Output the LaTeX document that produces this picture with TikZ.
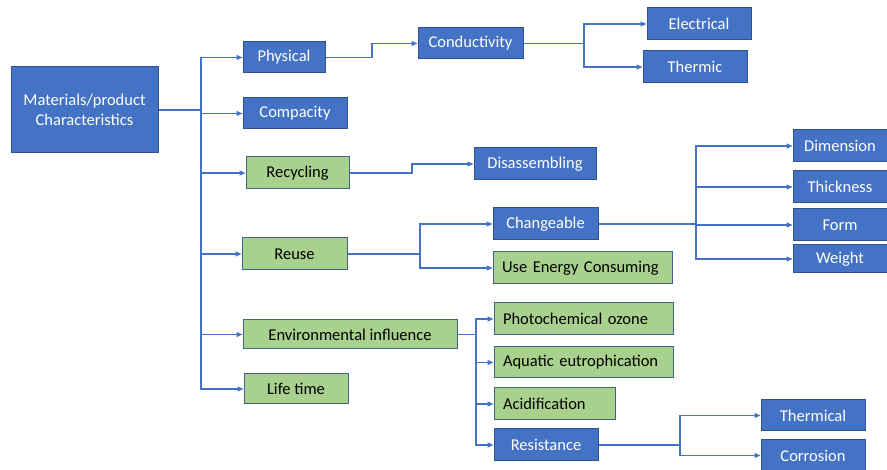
\documentclass[tikz,border=0pt]{standalone}
\usepackage{fontspec}
\setmainfont{Carlito}
\usetikzlibrary{arrows.meta}
\definecolor{bfill}{HTML}{4472C4}
\definecolor{bdraw}{HTML}{2F528F}
\definecolor{gfill}{HTML}{A9D18E}
\definecolor{gdraw}{HTML}{41618F}
\definecolor{lcol}{HTML}{4472C4}
\tikzset{
  box/.style={rectangle, inner sep=0pt, line width=1pt, font=\fontsize{16.5}{19.5}\selectfont, align=center},
  bluebox/.style={box, fill=bfill, draw=bdraw, text=white},
  greenbox/.style={box, fill=gfill, draw=gdraw, text=black},
  lefttext/.style={inner xsep=9pt, text width=#1, align=left},
  conn/.style={draw=lcol, line width=1.1pt},
  arr/.style={conn, -{Triangle[length=6pt,width=5pt]}},
}
\begin{document}
\begin{tikzpicture}[x=1pt,y=-1pt]
\useasboundingbox (0,0) rectangle (887,470);
% main
\node[bluebox, minimum width=147pt, minimum height=86pt] (main) at (84.5,110) {Materials/product\\Characteristics};
% level 1
\node[bluebox, minimum width=82pt, minimum height=31pt] (phys) at (284,57.5) {Physical};
\node[bluebox, minimum width=104pt, minimum height=31pt] (comp) at (295,113.5) {Compacity};
\node[greenbox, minimum width=103pt, minimum height=32pt] (recy) at (297.5,173) {Recycling};
\node[greenbox, minimum width=105pt, minimum height=32pt] (reuse) at (294.5,254) {Reuse};
\node[greenbox, minimum width=214pt, minimum height=29pt] (env) at (350,334.5) {Environmental influence};
\node[greenbox, minimum width=104pt, minimum height=30pt] (life) at (296,389) {Life time};
% level 2
\node[bluebox, minimum width=105pt, minimum height=31pt] (cond) at (470.5,43.5) {Conductivity};
\node[bluebox, minimum width=104pt, minimum height=32pt] (elec) at (699,24) {Electrical};
\node[bluebox, minimum width=104pt, minimum height=32pt] (therm) at (695,67) {Thermic};
\node[bluebox, minimum width=122pt, minimum height=32pt] (dis) at (535,164) {Disassembling};
\node[bluebox, minimum width=105pt, minimum height=32pt] (chg) at (545.5,224) {Changeable};
\node[greenbox, lefttext=161pt, minimum height=32pt] (use) at (582.5,268) {Use Energy Consuming};
\node[bluebox, minimum width=94pt, minimum height=32pt] (dim) at (840,146) {Dimension};
\node[bluebox, minimum width=94pt, minimum height=32pt] (thick) at (840,187) {Thickness};
\node[bluebox, minimum width=94pt, minimum height=32pt] (form) at (840,225) {Form};
\node[bluebox, minimum width=94pt, minimum height=28pt] (weight) at (840,259) {Weight};
\node[greenbox, lefttext=161pt, minimum height=32pt] (photo) at (583.5,319) {Photochemical ozone};
\node[greenbox, lefttext=161pt, minimum height=31pt] (aqua) at (583.5,362.5) {Aquatic eutrophication};
\node[greenbox, lefttext=103pt, minimum height=32pt] (acid) at (554.5,404) {Acidification};
\node[bluebox, minimum width=104pt, minimum height=32pt] (res) at (546,445) {Resistance};
\node[bluebox, minimum width=104pt, minimum height=31pt] (thml) at (813,415.5) {Thermical};
\node[bluebox, minimum width=104pt, minimum height=31pt] (corr) at (813,455.5) {Corrosion};
% junction coordinates
\coordinate (j0) at (201,110);
\coordinate (j1) at (372,57.5);
\coordinate (j2) at (584,43.5);
\coordinate (j3) at (412,173);
\coordinate (j4) at (420,254);
\coordinate (j5) at (696,224);
\coordinate (j6) at (476,334.5);
\coordinate (j7) at (680,445);
% connectors
\foreach \n in {phys,comp,recy,reuse,env,life}
  \draw[arr] (main.east) -- (j0) |- (\n.west);
\draw[arr] (phys.east) -| (j1) |- (cond.west);
\foreach \n in {elec,therm}
  \draw[arr] (cond.east) -- (j2) |- (\n.west);
\draw[arr] (recy.east) -| (j3) |- (dis.west);
\foreach \n in {chg,use}
  \draw[arr] (reuse.east) -- (j4) |- (\n.west);
\foreach \n in {dim,thick,form,weight}
  \draw[arr] (chg.east) -- (j5) |- (\n.west);
\foreach \n in {photo,aqua,acid,res}
  \draw[arr] (env.east) -- (j6) |- (\n.west);
\foreach \n in {thml,corr}
  \draw[arr] (res.east) -- (j7) |- (\n.west);
\end{tikzpicture}
\end{document}
